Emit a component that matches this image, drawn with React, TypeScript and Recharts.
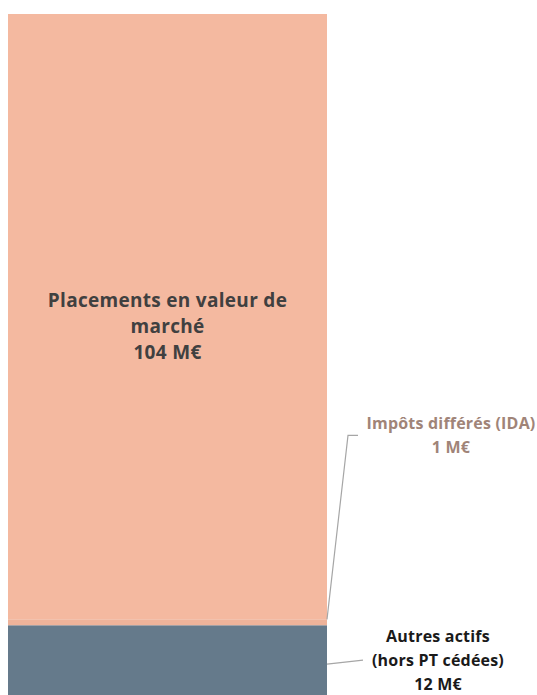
import React from "react";
import { BarChart, Bar, XAxis, YAxis, LabelList } from "recharts";

const categories = ["Actif"];
const autresActifs = [12];
const impotsDifferes = [1];
const placements = [104];

const data = categories.map((c, i) => ({
  name: c,
  autres: autresActifs[i],
  ida: impotsDifferes[i],
  placements: placements[i],
}));

const FONT = "'Open Sans', sans-serif";

const PlacementsLabel = (props: any) => {
  const { x, y, width, height, value } = props;
  const cx = x + width / 2;
  const cy = y + height / 2 + 10;
  return (
    <text x={cx} textAnchor="middle" fontFamily={FONT} fontWeight={700} fontSize={19} letterSpacing={0.3} fill="#404040">
      <tspan x={cx} y={cy - 20}>Placements en valeur de</tspan>
      <tspan x={cx} y={cy + 6}>marché</tspan>
      <tspan x={cx} y={cy + 32}>{`${value} M€`}</tspan>
    </text>
  );
};

const IdaLabel = (props: any) => {
  const { x, y, width, value } = props;
  const ex = x + width;
  const ey = y;
  const tx = ex + 124;
  return (
    <g>
      <polyline
        points={`${ex},${ey} ${ex + 21},${ey - 184} ${ex + 31},${ey - 184}`}
        fill="none"
        stroke="#a6a6a6"
        strokeWidth={1.2}
      />
      <text x={tx} textAnchor="middle" fontFamily={FONT} fontWeight={700} fontSize={16} letterSpacing={0.2} fill="#a08478">
        <tspan x={tx} y={ey - 190}>Impôts différés (IDA)</tspan>
        <tspan x={tx} y={ey - 166}>{`${value} M€`}</tspan>
      </text>
    </g>
  );
};

const AutresLabel = (props: any) => {
  const { x, y, width, height, value } = props;
  const ex = x + width;
  const cy = y + height / 2;
  const tx = ex + 111;
  return (
    <g>
      <line x1={ex} y1={cy + 4} x2={ex + 36} y2={cy} stroke="#a6a6a6" strokeWidth={1.2} />
      <text x={tx} textAnchor="middle" fontFamily={FONT} fontWeight={700} fontSize={16} letterSpacing={0.2} fill="#1a1a1a">
        <tspan x={tx} y={cy - 18}>Autres actifs</tspan>
        <tspan x={tx} y={cy + 6}>(hors PT cédées)</tspan>
        <tspan x={tx} y={cy + 30}>{`${value} M€`}</tspan>
      </text>
    </g>
  );
};

export default function App() {
  return (
    <div style={{ position: "absolute", left: 0, top: 0, background: "#fff" }}>
      <BarChart
        width={537}
        height={695}
        data={data}
        margin={{ top: 14, right: 210, bottom: 0, left: 8 }}
        barCategoryGap={0}
      >
        <XAxis dataKey="name" hide />
        <YAxis hide domain={[0, 117]} />
        <Bar dataKey="autres" stackId="a" fill="#657a8b" isAnimationActive={false}>
          <LabelList dataKey="autres" content={<AutresLabel />} />
        </Bar>
        <Bar dataKey="ida" stackId="a" fill="#eeb39a" isAnimationActive={false}>
          <LabelList dataKey="ida" content={<IdaLabel />} />
        </Bar>
        <Bar dataKey="placements" stackId="a" fill="#f4b9a0" isAnimationActive={false}>
          <LabelList dataKey="placements" content={<PlacementsLabel />} />
        </Bar>
      </BarChart>
    </div>
  );
}
